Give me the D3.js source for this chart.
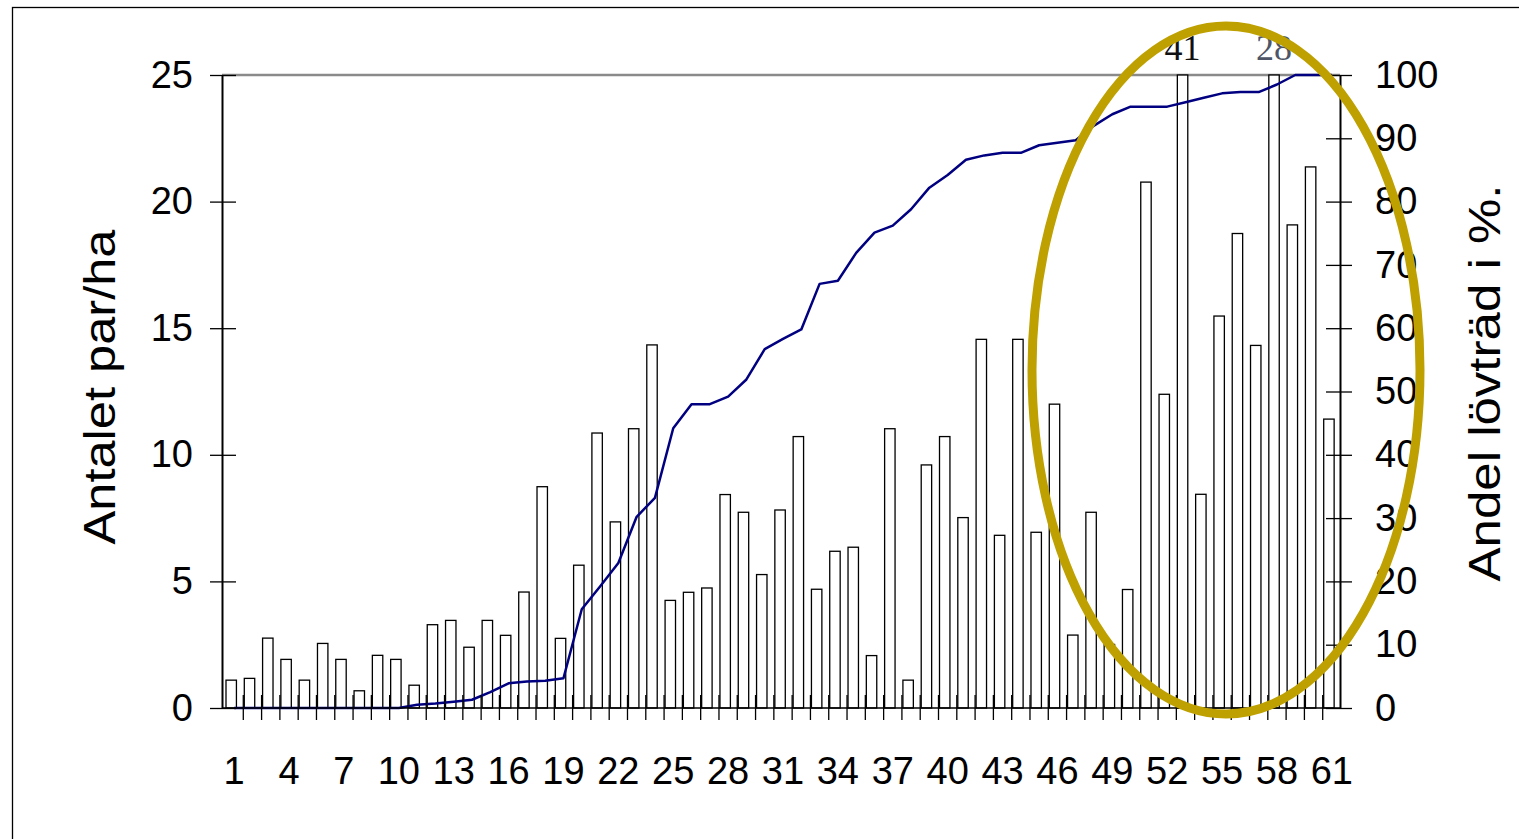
<!DOCTYPE html>
<html>
<head>
<meta charset='utf-8'>
<style>
body {
  margin: 0;
  background: #fff;
  font-family: "Liberation Sans", Arial, sans-serif;
}
svg {
  display: block;
  background: #fff;
}
.axis text {
  font-family: "Liberation Sans", Arial, sans-serif;
  font-size: 38px;
  fill: #000;
}
.axis path.domain {
  stroke: #000;
  stroke-width: 2px;
}
.axis line {
  stroke: #000;
  stroke-width: 1.3px;
}
.bars rect {
  fill: #fff;
  stroke: #000;
  stroke-width: 1.3px;
}
</style>
</head>
<body>
<svg width="1519" height="839"></svg>
<script src="https://d3js.org/d3.v7.min.js"></script>
<script>

// categories 1..61
var categories = d3.range(1, 62);

// Antalet par/ha (left axis), bars
var pairs = [1.1, 1.17, 2.76, 1.92, 1.1, 2.55, 1.92, 0.68, 2.08, 1.92,
             0.9, 3.29, 3.46, 2.4, 3.46, 2.87, 4.58, 8.74, 2.75, 5.64,
             10.86, 7.35, 11.03, 14.34, 4.25, 4.57, 4.74, 8.43, 7.73, 5.27,
             7.82, 10.72, 4.69, 6.19, 6.35, 2.07, 11.03, 1.1, 9.6, 10.72,
             7.52, 14.56, 6.82, 14.56, 6.94, 12.0, 2.88, 7.73, 2.51, 4.68,
             20.77, 12.39, 41, 8.44, 15.48, 18.74, 14.32, 28, 19.08, 21.37, 11.41];

// Andel lövträd i % (right axis), line
var share = [0, 0, 0, 0, 0, 0, 0, 0, 0, 0,
             0.5, 0.7, 1.0, 1.3, 2.5, 3.9, 4.2, 4.3, 4.7, 15.6,
             19.2, 22.9, 30.2, 33.2, 44.2, 48.0, 48.0, 49.2, 51.9, 56.7,
             58.3, 59.8, 67.0, 67.5, 71.9, 75.1, 76.2, 78.8, 82.2, 84.2,
             86.6, 87.3, 87.7, 87.7, 88.9, 89.3, 89.7, 92.0, 93.8, 95.0,
             95.0, 95.0, 95.7, 96.4, 97.1, 97.3, 97.3, 98.5, 100, 100, 100];

var leftTicks = [0, 5, 10, 15, 20, 25];
var rightTicks = [0, 10, 20, 30, 40, 50, 60, 70, 80, 90, 100];
var xLabels = categories.filter(function(c) { return (c - 1) % 3 == 0; });

// note: "top" is taken by window.top, so plot edges get their own names
var svg = d3.select('svg'),
    plotLeft = 222,
    plotRight = 1340,
    plotTop = 75,
    plotBottom = 708;

var x = d3.scaleBand().domain(categories).range([225, 1341]).padding(0);
var y = d3.scaleLinear().domain([0, 25]).range([plotBottom, plotTop]);
var y2 = d3.scaleLinear().domain([0, 100]).range([plotBottom, plotTop]);

// outer frame
svg.append('rect')
    .attr('x', 12.5).attr('y', 7.5)
    .attr('width', 1530).attr('height', 860)
    .attr('fill', 'none')
    .attr('stroke', '#000')
    .attr('stroke-width', 1.3);

// grey top edge of plot area
svg.append('line')
    .attr('x1', plotLeft).attr('x2', plotRight)
    .attr('y1', plotTop).attr('y2', plotTop)
    .attr('stroke', '#8a8a8a')
    .attr('stroke-width', 2.5);

// bars, clipped at the top of the axis
svg.append('g')
    .attr('class', 'bars')
  .selectAll('rect')
  .data(categories)
  .enter().append('rect')
    .attr('x', function(c) { return x(c) + 1; })
    .attr('width', x.bandwidth() * 0.57)
    .attr('y', function(c, i) { return y(Math.min(pairs[i], 25)); })
    .attr('height', function(c, i) { return plotBottom - y(Math.min(pairs[i], 25)); });

// values above the axis top
svg.append('g')
  .selectAll('text')
  .data(categories.filter(function(c) { return pairs[c - 1] > 25; }))
  .enter().append('text')
    .attr('x', function(c) { return x(c) + 1 + x.bandwidth() * 0.285; })
    .attr('y', 60)
    .attr('text-anchor', 'middle')
    .attr('font-family', '"Liberation Serif", "Times New Roman", serif')
    .attr('font-size', 36)
    .attr('fill', function(c) { return c == 53 ? '#111' : '#4d5566'; })
    .text(function(c) { return pairs[c - 1]; });

// line
var valueline = d3.line()
    .x(function(d, i) { return x(categories[i]) + x.bandwidth() / 2; })
    .y(function(d) { return y2(d); });

svg.append('path')
    .datum(share)
    .attr('d', valueline)
    .attr('fill', 'none')
    .attr('stroke', '#000080')
    .attr('stroke-width', 2.5)
    .attr('stroke-linejoin', 'round');

// left axis, ticks crossing the axis
var gLeft = svg.append('g')
    .attr('class', 'axis')
    .attr('transform', 'translate(' + plotLeft + ',0)')
    .call(d3.axisLeft(y).tickValues(leftTicks).tickSize(12).tickPadding(17).tickSizeOuter(0));
gLeft.selectAll('.tick line').attr('x1', 14);

// right axis
var gRight = svg.append('g')
    .attr('class', 'axis')
    .attr('transform', 'translate(' + plotRight + ',0)')
    .call(d3.axisRight(y2).tickValues(rightTicks).tickSize(12).tickPadding(23).tickSizeOuter(0));
gRight.selectAll('.tick line').attr('x1', -14);

// bottom axis: base line, boundary ticks, labels every third category
var gBottom = svg.append('g').attr('class', 'axis');
gBottom.append('line')
    .attr('x1', plotLeft).attr('x2', plotRight)
    .attr('y1', plotBottom).attr('y2', plotBottom)
    .attr('stroke-width', 2);
gBottom.selectAll('.btick')
  .data(categories.slice(1))
  .enter().append('line')
    .attr('class', 'btick')
    .attr('x1', function(c) { return x(c); })
    .attr('x2', function(c) { return x(c); })
    .attr('y1', plotBottom - 13)
    .attr('y2', plotBottom + 12);
gBottom.selectAll('.blabel')
  .data(xLabels)
  .enter().append('text')
    .attr('class', 'blabel')
    .attr('x', function(c) { return x(c) + x.bandwidth() / 2; })
    .attr('y', 784)
    .attr('text-anchor', 'middle')
    .text(function(c) { return c; });

// axis titles
svg.append('text')
    .attr('transform', 'translate(115,387) rotate(-90)')
    .attr('text-anchor', 'middle')
    .attr('font-size', 44)
    .attr('textLength', 315)
    .attr('lengthAdjust', 'spacingAndGlyphs')
    .text('Antalet par/ha');

svg.append('text')
    .attr('transform', 'translate(1500,383) rotate(-90)')
    .attr('text-anchor', 'middle')
    .attr('font-size', 44)
    .attr('textLength', 397)
    .attr('lengthAdjust', 'spacingAndGlyphs')
    .text('Andel lövträd i %.');

// highlight ellipse
svg.append('ellipse')
    .attr('cx', 1226).attr('cy', 370)
    .attr('rx', 194).attr('ry', 344)
    .attr('fill', 'none')
    .attr('stroke', '#bea100')
    .attr('stroke-width', 9);

</script>
</body>
</html>
